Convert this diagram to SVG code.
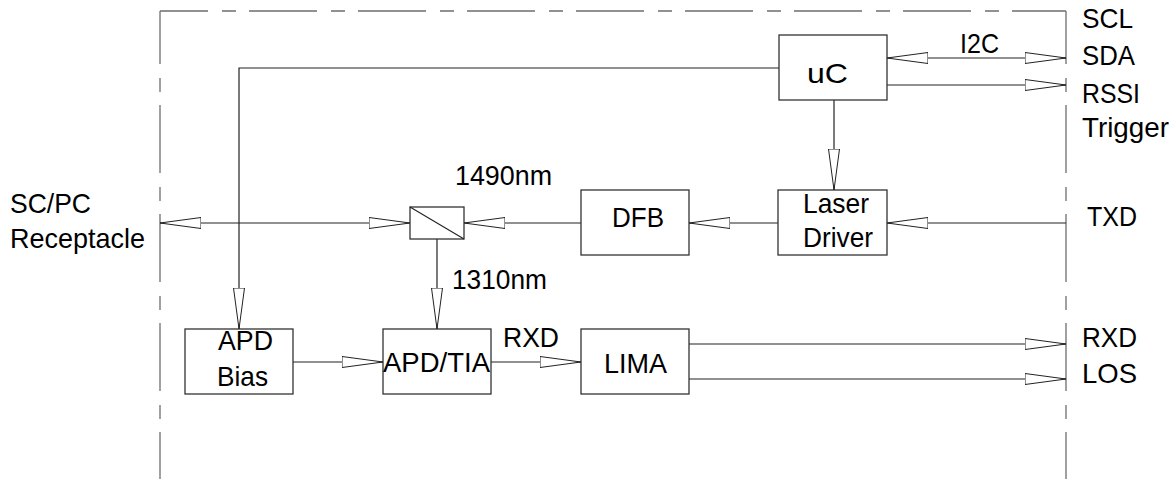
<svg xmlns="http://www.w3.org/2000/svg" width="1176" height="479" viewBox="0 0 1176 479">
<defs>
<style>
.bd{fill:none;stroke:#6e6e6e;stroke-width:1.3;stroke-dasharray:68 14 14 13}
.box{fill:#fff;stroke:#333;stroke-width:1.3}
.ln{fill:none;stroke:#222;stroke-width:1.2}
text{font-family:"Liberation Sans",Arial,sans-serif;font-size:28px;fill:#000}
</style>
<marker id="ah" markerUnits="userSpaceOnUse" markerWidth="44" markerHeight="14" refX="41" refY="6" orient="auto-start-reverse" viewBox="0 0 44 12">
<path d="M0,0.5 L41,6 L0,11.5 Z" fill="#fff" stroke="#222" stroke-width="1"/>
</marker>
</defs>
<g id="boundary">
<line class="bd" x1="160" y1="11" x2="160" y2="479" stroke-dashoffset="15"/>
<line class="bd" x1="160" y1="11" x2="1066" y2="11" stroke-dashoffset="20"/>
<line class="bd" x1="1066" y1="11" x2="1066" y2="479" stroke-dashoffset="15"/>
</g>
<g id="connectors">
<polyline class="ln" points="779,68 239,68 239,329" marker-end="url(#ah)"/>
<line class="ln" x1="887" y1="58" x2="1066" y2="58" marker-start="url(#ah)" marker-end="url(#ah)"/>
<line class="ln" x1="887" y1="85" x2="1066" y2="85" marker-end="url(#ah)"/>
<line class="ln" x1="834" y1="100" x2="834" y2="190" marker-end="url(#ah)"/>
<line class="ln" x1="1066" y1="223" x2="887" y2="223" marker-end="url(#ah)"/>
<line class="ln" x1="778" y1="223" x2="689" y2="223" marker-end="url(#ah)"/>
<line class="ln" x1="581" y1="223" x2="464" y2="223" marker-end="url(#ah)"/>
<line class="ln" x1="160" y1="223" x2="410" y2="223" marker-start="url(#ah)" marker-end="url(#ah)"/>
<line class="ln" x1="437" y1="239" x2="437" y2="329" marker-end="url(#ah)"/>
<line class="ln" x1="293" y1="362" x2="383" y2="362" marker-end="url(#ah)"/>
<line class="ln" x1="491" y1="362" x2="581" y2="362" marker-end="url(#ah)"/>
<line class="ln" x1="689" y1="344" x2="1066" y2="344" marker-end="url(#ah)"/>
<line class="ln" x1="689" y1="379" x2="1066" y2="379" marker-end="url(#ah)"/>
</g>
<g id="uC">
<rect class="box" x="779" y="35" width="108" height="65"/>
<text x="807" y="83" textLength="41" lengthAdjust="spacingAndGlyphs">uC</text>
</g>
<g id="laser-driver">
<rect class="box" x="778" y="190" width="109" height="65"/>
<text x="803" y="213" textLength="66" lengthAdjust="spacingAndGlyphs">Laser</text>
<text x="803" y="247" textLength="70" lengthAdjust="spacingAndGlyphs">Driver</text>
</g>
<g id="dfb">
<rect class="box" x="581" y="190" width="108" height="65"/>
<text x="612" y="227" textLength="52" lengthAdjust="spacingAndGlyphs">DFB</text>
</g>
<g id="splitter">
<rect class="box" x="410" y="207" width="54" height="32"/>
<line class="ln" x1="410" y1="207" x2="464" y2="239"/>
</g>
<g id="apd-bias">
<rect class="box" x="185" y="329" width="108" height="65"/>
<text x="218" y="350" textLength="55" lengthAdjust="spacingAndGlyphs">APD</text>
<text x="217" y="386" textLength="51" lengthAdjust="spacingAndGlyphs">Bias</text>
</g>
<g id="apd-tia">
<rect class="box" x="383" y="329" width="108" height="65"/>
<text x="383" y="372" textLength="107" lengthAdjust="spacingAndGlyphs">APD/TIA</text>
</g>
<g id="lima">
<rect class="box" x="581" y="329" width="108" height="65"/>
<text x="604" y="373" textLength="63" lengthAdjust="spacingAndGlyphs">LIMA</text>
</g>
<g id="labels">
<text x="960" y="53" textLength="39" lengthAdjust="spacingAndGlyphs">I2C</text>
<text x="1082" y="28" textLength="51" lengthAdjust="spacingAndGlyphs">SCL</text>
<text x="1082" y="65" textLength="53" lengthAdjust="spacingAndGlyphs">SDA</text>
<text x="1082" y="103" textLength="58" lengthAdjust="spacingAndGlyphs">RSSI</text>
<text x="1082" y="137" textLength="87" lengthAdjust="spacingAndGlyphs">Trigger</text>
<text x="1087" y="226" textLength="50" lengthAdjust="spacingAndGlyphs">TXD</text>
<text x="1082" y="347" textLength="55" lengthAdjust="spacingAndGlyphs">RXD</text>
<text x="1082" y="383" textLength="55" lengthAdjust="spacingAndGlyphs">LOS</text>
<text x="10" y="213" textLength="81" lengthAdjust="spacingAndGlyphs">SC/PC</text>
<text x="10" y="248" textLength="135" lengthAdjust="spacingAndGlyphs">Receptacle</text>
<text x="455" y="185" textLength="97" lengthAdjust="spacingAndGlyphs">1490nm</text>
<text x="452" y="289" textLength="95" lengthAdjust="spacingAndGlyphs">1310nm</text>
<text x="503" y="347" textLength="56" lengthAdjust="spacingAndGlyphs">RXD</text>
</g>
</svg>
